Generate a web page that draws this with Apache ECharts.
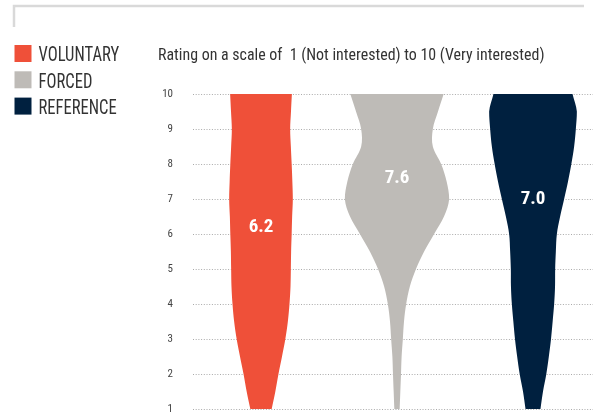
<!DOCTYPE html>
<html>
<head>
<meta charset="utf-8">
<style>
  html, body { margin: 0; padding: 0; background: #fff; }
  #chart { width: 593px; height: 417px; }
</style>
<script src="https://cdn.jsdelivr.net/npm/echarts@6.0.0/dist/echarts.min.js"></script>
</head>
<body>
<div id="chart"></div>
<script>
// violin groups, legend order
const categories = ["VOLUNTARY", "FORCED", "REFERENCE"];
const colors = ["#ef5039", "#bebbb7", "#00203f"];
// mean rating shown inside each violin
const means = [6.2, 7.6, 7.0];

const ratings = [1, 1.5, 2, 2.5, 3, 3.5, 4, 4.5, 5, 5.5, 6, 6.5, 7, 7.5, 8, 8.5, 9, 9.5, 10];
// violin width at each rating, as a share of the category band
const voluntaryDensity = [0.157, 0.211, 0.257, 0.309, 0.358, 0.395, 0.419, 0.434, 0.439, 0.443,
  0.451, 0.458, 0.468, 0.461, 0.451, 0.439, 0.429, 0.441, 0.454];
const forcedDensity = [0.039, 0.049, 0.059, 0.068, 0.086, 0.103, 0.135, 0.189, 0.279, 0.399,
  0.546, 0.691, 0.767, 0.730, 0.649, 0.527, 0.527, 0.603, 0.686];
const referenceDensity = [0.110, 0.147, 0.196, 0.233, 0.265, 0.289, 0.311, 0.324, 0.326, 0.336,
  0.351, 0.399, 0.458, 0.515, 0.564, 0.605, 0.630, 0.645, 0.581];
const densities = [voluntaryDensity, forcedDensity, referenceDensity];

const yMin = 1;
const yMax = 10;
const yStep = 1;
const titleText = "Rating on a scale of  1 (Not interested) to 10 (Very interested)";

const FONT = "'Liberation Sans Narrow', 'Roboto Condensed', 'DejaVu Sans Condensed', sans-serif";

function renderViolin(params, api) {
  const idx = api.value(0);
  const density = densities[idx];
  const band = api.size([1, 0])[0];
  const right = [];
  const left = [];
  ratings.forEach((r, k) => {
    const p = api.coord([idx, r]);
    const half = (density[k] * band) / 2;
    right.push([p[0] + half, p[1]]);
    left.push([p[0] - half, p[1]]);
  });
  left.reverse();
  // corners are doubled so the smoothing keeps the flat cut ends sharp
  const points = [right[0]].concat(right, [right[right.length - 1]], [left[0]], left, [left[left.length - 1]]);
  const top = api.coord([idx, ratings[ratings.length - 1]]);
  const bottom = api.coord([idx, ratings[0]]);
  const labelPos = api.coord([idx, api.value(1)]);
  return {
    type: "group",
    children: [
      {
        type: "polygon",
        shape: {
          points: points,
          smooth: 0.35,
          smoothConstraint: [[top[0], top[1]], [bottom[0], bottom[1]]],
        },
        style: { fill: api.visual("color") },
      },
      {
        type: "text",
        x: labelPos[0],
        y: labelPos[1],
        style: {
          text: api.value(1).toFixed(1),
          fill: "#fff",
          font: "bold 19px " + FONT,
          align: "center",
          verticalAlign: "middle",
        },
      },
    ],
  };
}

// legend squares + labels, and the title line
const graphics = [
  {
    type: "polyline",
    shape: { points: [[14, 27], [14, 6], [584, 6]] },
    style: { stroke: "#d9d9d9", lineWidth: 2.5, fill: null },
  },
  {
    type: "text",
    x: 158,
    y: 56,
    scaleX: 0.937,
    style: { text: titleText, font: "17px " + FONT, fill: "#333", verticalAlign: "middle" },
  },
];
categories.forEach((name, i) => {
  const top = 45 + i * 26.3;
  graphics.push({
    type: "rect",
    shape: { x: 14.5, y: top, width: 17, height: 17 },
    style: { fill: colors[i] },
  });
  graphics.push({
    type: "text",
    x: 38.5,
    y: top + 11,
    scaleX: 0.79,
    style: { text: name, font: "21px " + FONT, fill: "#333", verticalAlign: "middle" },
  });
});

const chart = echarts.init(document.getElementById("chart"));
chart.setOption({
  animation: false,
  grid: { left: 193, right: -8, top: 94, bottom: 8, outerBoundsMode: "none" },
  xAxis: {
    type: "category",
    data: categories,
    show: false,
  },
  yAxis: {
    type: "value",
    min: yMin,
    max: yMax,
    interval: yStep,
    axisLine: { show: false },
    axisTick: { show: false },
    axisLabel: { margin: 20, color: "#444", fontSize: 11, fontFamily: FONT },
    splitLine: { lineStyle: { color: "#aaa", width: 1, type: [1, 1.7] } },
  },
  graphic: graphics,
  series: [
    {
      type: "custom",
      renderItem: renderViolin,
      encode: { x: 0, y: 1 },
      data: categories.map((c, i) => ({ value: [i, means[i]], itemStyle: { color: colors[i] } })),
      silent: true,
    },
  ],
});
window.addEventListener("resize", chart.resize);
</script>
</body>
</html>
